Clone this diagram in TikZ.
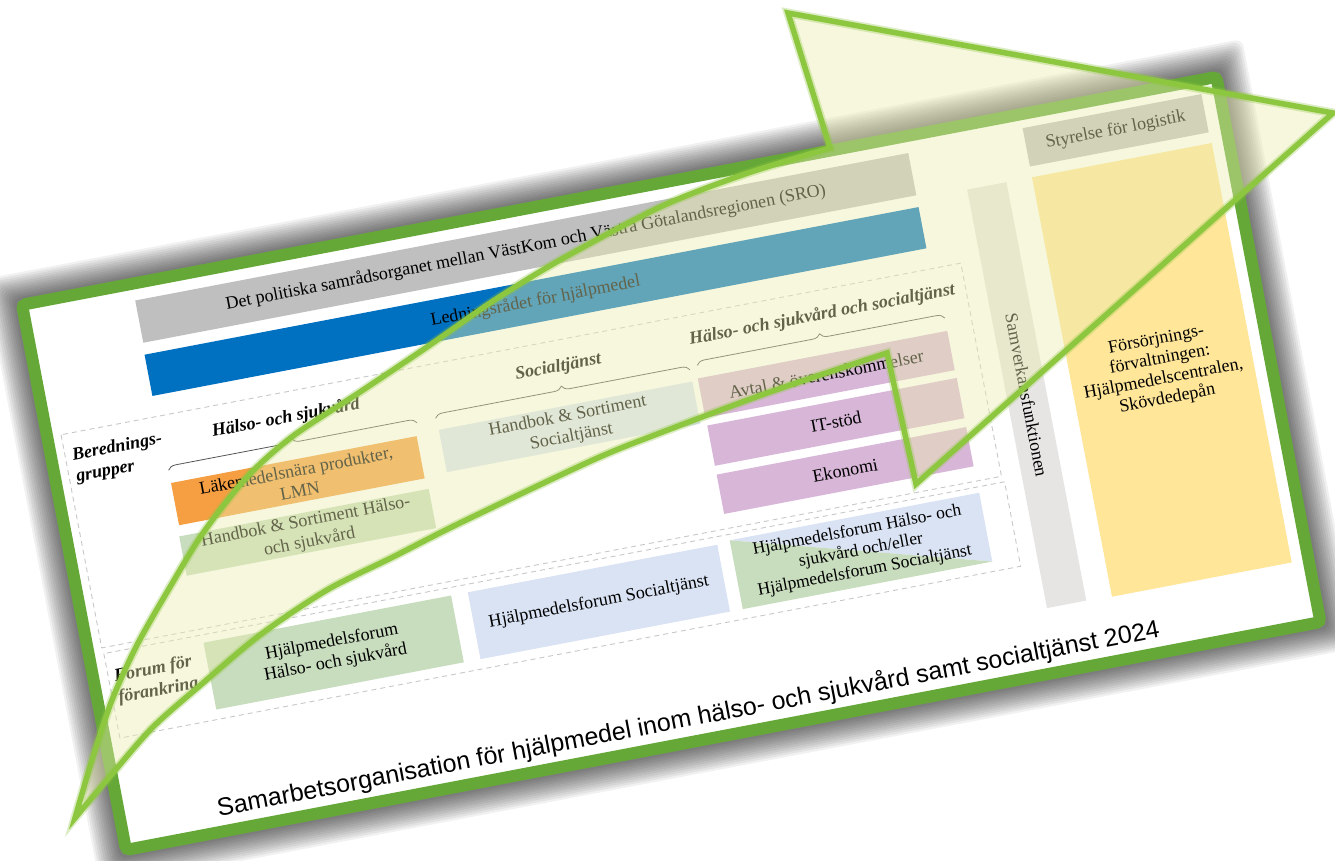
\documentclass[tikz,border=0pt]{standalone}
\usepackage{fontspec}
\setmainfont{Liberation Serif}
\newfontfamily\titlefont{Liberation Sans}
\usetikzlibrary{decorations.pathreplacing}
\definecolor{framegreen}{RGB}{101,168,55}
\definecolor{arrowgreen}{RGB}{141,198,63}
\definecolor{arrowfill}{RGB}{234,237,175}
\definecolor{srogray}{RGB}{191,191,191}
\definecolor{ledblue}{RGB}{0,112,192}
\definecolor{lmnorange}{RGB}{245,158,66}
\definecolor{hsgreen}{RGB}{200,220,190}
\definecolor{soblue}{RGB}{218,227,243}
\definecolor{lilac}{RGB}{216,182,216}
\definecolor{samgray}{RGB}{231,229,228}
\definecolor{fyellow}{RGB}{255,230,153}
\definecolor{dashgray}{RGB}{200,200,200}
\definecolor{bracegray}{RGB}{85,85,85}
\begin{document}
\begin{tikzpicture}[x=1pt,y=-1pt,
  bx/.style={font=\fontsize{18}{21}\selectfont, align=center, inner sep=0pt, text=black},
  lbl/.style={font=\bfseries\itshape\fontsize{18}{22}\selectfont, inner sep=0pt, text=black},
  dashbox/.style={dashgray, line width=0.9pt, dash pattern=on 5pt off 4pt},
  bracestyle/.style={bracegray, line width=0.8pt, decorate, decoration={brace, amplitude=8pt}},
  arrowline/.style={arrowgreen, line join=miter, miter limit=8}]
\useasboundingbox (0,0) rectangle (1335,860);
\fill[white] (0,0) rectangle (1335,860);
\begin{scope}[shift={(15,300)}, rotate=10.8, transform shape]
  \foreach \i in {1,...,12} {
    \fill[black, opacity=0.055, rounded corners=8pt] (-2.2*\i,-2.2*\i) rectangle (1228+2.2*\i,567+2.2*\i);
  }
  \draw[framegreen, line width=12pt, fill=white, rounded corners=4pt] (6,6) rectangle (1222,561);
  % top bars
  \node[bx, fill=srogray, minimum width=787pt, minimum height=43pt] (sro) at (511.5,44.5)
    {Det politiska samrådsorganet mellan VästKom och Västra Götalandsregionen (SRO)};
  \node[bx, fill=ledblue, minimum width=788pt, minimum height=42pt] (led) at (511,99)
    {Ledningsrådet för hjälpmedel};
  % dashed regions
  \draw[dashbox] (20,141) rectangle (936,358);
  \draw[dashbox] (21,364) rectangle (938,450);
  % labels
  \node[lbl, align=left, anchor=west] (bered) at (27,175) {Berednings-\\grupper};
  \node[lbl] (lhs) at (244,167) {Hälso- och sjukvård};
  \node[lbl] (lso) at (521,168) {Socialtjänst};
  \node[lbl] (lhsso) at (790,166) {Hälso- och sjukvård och socialtjänst};
  \node[lbl, align=left, anchor=west] (forumlbl) at (27,400) {Forum för\\förankring};
  % braces
  \draw[bracestyle] (119,196) -- (372,196);
  \draw[bracestyle] (391,195) -- (650,195);
  \draw[bracestyle] (658,192) -- (910,192);
  % beredningsgrupper boxes
  \node[bx, fill=lmnorange, minimum width=250pt, minimum height=43pt] (lmn) at (244,230.5)
    {Läkemedelsnära produkter,\\LMN};
  \node[bx, fill=hsgreen, minimum width=254pt, minimum height=40pt] (hbhs) at (244,283)
    {Handbok \& Sortiment Hälso-\\och sjukvård};
  \node[bx, fill=soblue, minimum width=258pt, minimum height=43pt] (hbso) at (521,228.5)
    {Handbok \& Sortiment\\Socialtjänst};
  \node[bx, fill=lilac, minimum width=254pt, minimum height=40pt] (avtal) at (783,225)
    {Avtal \& överenskommelser};
  \node[bx, fill=lilac, minimum width=254pt, minimum height=41pt] (itstod) at (783.5,273.5)
    {IT-stöd};
  \node[bx, fill=lilac, minimum width=254pt, minimum height=40pt] (ekonomi) at (783.5,323)
    {Ekonomi};
  % forum boxes
  \node[bx, fill=hsgreen, minimum width=252pt, minimum height=68pt] (hmfhs) at (247,406)
    {Hjälpmedelsforum\\Hälso- och sjukvård};
  \node[bx, fill=soblue, minimum width=254pt, minimum height=68pt] (hmfso) at (517,406)
    {Hjälpmedelsforum Socialtjänst};
  \fill[soblue] (657,370) -- (911,370) -- (911,440) -- cycle;
  \fill[hsgreen] (657,370) -- (657,440) -- (911,440) -- cycle;
  \node[bx, font=\fontsize{17.5}{20.5}\selectfont] (hmfboth) at (784,405)
    {Hjälpmedelsforum Hälso- och\\sjukvård och/eller\\Hjälpmedelsforum Socialtjänst};
  % right column
  \node[bx, fill=samgray, rotate=-90, minimum width=426pt, minimum height=40pt] (samv) at (976,283)
    {Samverkansfunktionen};
  \node[bx, fill=srogray, minimum width=182pt, minimum height=39pt] (styr) at (1113,39.5)
    {Styrelse för logistik};
  \node[bx, fill=fyellow, minimum width=183pt, minimum height=427pt, font=\fontsize{18}{20}\selectfont] (forsorj) at (1113.5,283.5)
    {Försörjnings-\\förvaltningen:\\Hjälpmedelscentralen,\\Skövdedepån};
  % title
  \node[font=\titlefont\fontsize{25}{27}\selectfont, inner sep=0pt] (title) at (583,538)
    {Samarbetsorganisation för hjälpmedel inom hälso- och sjukvård samt socialtjänst 2024};
\end{scope}
% arrow overlay
\fill[arrowfill, fill opacity=0.42] (75,818) -- plot[smooth, tension=0.5] coordinates {(75,818) (92,760) (112,700) (137,645) (170,587) (203,533) (247,477) (293,436) (360,392) (427,347) (493,301) (560,260) (660,207) (745,174) (830,148)} -- (788,13) -- (1333,113) -- (916,484) -- (887,353) -- plot[smooth, tension=0.5] coordinates {(887,353) (770,392) (660,433) (593,460) (460,523) (393,557) (327,590) (260,635) (203,683) (153,727) (112,774) (75,818)} -- cycle;
\draw[arrowline, line width=9pt, draw opacity=0.3] (75,818) -- plot[smooth, tension=0.5] coordinates {(75,818) (92,760) (112,700) (137,645) (170,587) (203,533) (247,477) (293,436) (360,392) (427,347) (493,301) (560,260) (660,207) (745,174) (830,148)} -- (788,13) -- (1333,113) -- (916,484) -- (887,353) -- plot[smooth, tension=0.5] coordinates {(887,353) (770,392) (660,433) (593,460) (460,523) (393,557) (327,590) (260,635) (203,683) (153,727) (112,774) (75,818)} -- cycle;
\draw[arrowline, line width=5.5pt] (75,818) -- plot[smooth, tension=0.5] coordinates {(75,818) (92,760) (112,700) (137,645) (170,587) (203,533) (247,477) (293,436) (360,392) (427,347) (493,301) (560,260) (660,207) (745,174) (830,148)} -- (788,13) -- (1333,113) -- (916,484) -- (887,353) -- plot[smooth, tension=0.5] coordinates {(887,353) (770,392) (660,433) (593,460) (460,523) (393,557) (327,590) (260,635) (203,683) (153,727) (112,774) (75,818)} -- cycle;
\end{tikzpicture}
\end{document}
